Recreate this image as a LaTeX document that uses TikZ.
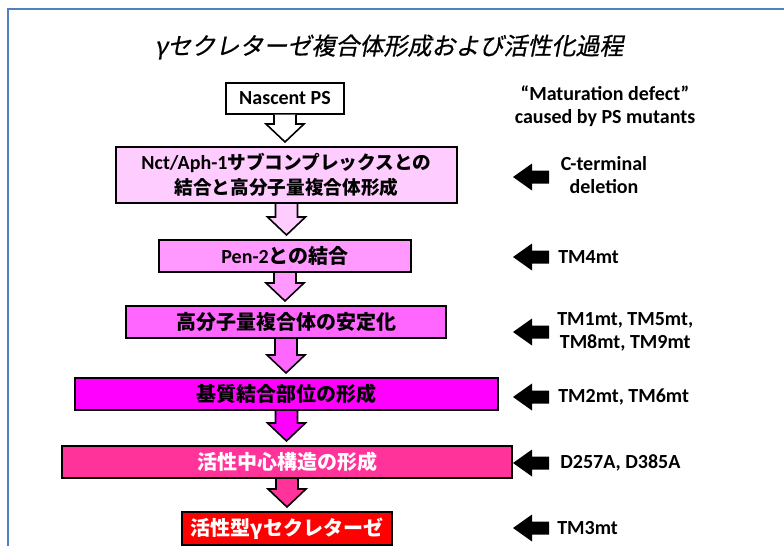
\documentclass[tikz,border=0pt]{standalone}
\usepackage{fontspec}
\setmainfont{Carlito}
\newfontfamily\jp{Noto Sans CJK JP}
\newfontfamily\jptitle{Noto Sans CJK JP}[FakeSlant=0.2, FakeBold=0.6]
\usetikzlibrary{calc}
\definecolor{frameblue}{RGB}{79,129,189}
\definecolor{c2}{RGB}{255,204,255}
\definecolor{c3}{RGB}{255,153,255}
\definecolor{c4}{RGB}{255,102,255}
\definecolor{c5}{RGB}{255,0,255}
\definecolor{c6}{RGB}{255,51,153}
\definecolor{c7}{RGB}{255,0,0}
\tikzset{
  stepbox/.style={draw=black, line width=1.5pt, inner sep=0pt, align=center,
    font=\fontsize{15}{18}\selectfont\bfseries},
  blockarr/.style={draw=black, line width=1.2pt, line join=miter},
  leftarr/.style={fill=black},
  lab/.style={font=\fontsize{15}{17}\selectfont\bfseries, align=center, inner sep=0pt}
}
\newcommand\flowarrow[3]{%
  \coordinate (tip) at ($(#2.north -| #1.south)+(0,-4)$);
  \draw[blockarr, fill=#3] ($(#1.south)+(-11,0)$) -- ($(tip)+(-11,-18)$) -- ($(tip)+(-19,-18)$)
    -- (tip) -- ($(tip)+(19,-18)$) -- ($(tip)+(11,-18)$) -- ($(#1.south)+(11,0)$);
}
\newcommand\blackarrow[2]{%
  \coordinate (#1) at #2;
  \fill[leftarr] ($(#1)+(-18,0)$) -- ($(#1)+(1,-13.5)$) -- ($(#1)+(1,-6.5)$) -- ($(#1)+(18,-6.5)$)
    -- ($(#1)+(18,6.5)$) -- ($(#1)+(1,6.5)$) -- ($(#1)+(1,13.5)$) -- cycle;
}
\begin{document}
\begin{tikzpicture}[x=0.75pt, y=-0.75pt]
\useasboundingbox (0,0) rectangle (784,546);
\draw[frameblue, line width=1.5pt] (8,546) -- (8,9) -- (784,9);
\node (title) at (389,47) {\jptitle\fontsize{18}{20}\selectfont γセクレターゼ複合体形成および活性化過程};

\node[stepbox, fill=white, minimum width=88.5pt, minimum height=23.25pt] (b1) at (285,98) {Nascent PS};
\node[stepbox, fill=c2, minimum width=255.75pt, minimum height=42pt, font=\fontsize{14}{18.5}\selectfont\bfseries] (b2) at (286.5,175)
  {{\fontsize{15}{18.5}\selectfont Nct/Aph-1}{\jp サブコンプレックスとの}\\{\jp 結合と高分子量複合体形成}};
\node[stepbox, fill=c3, minimum width=189pt, minimum height=24pt] (b3) at (285,256) {Pen-2{\jp との結合}};
\node[stepbox, fill=c4, minimum width=240pt, minimum height=24pt] (b4) at (286,322) {\jp 高分子量複合体の安定化};
\node[stepbox, fill=c5, minimum width=317.25pt, minimum height=24pt] (b5) at (286.5,394) {\jp 基質結合部位の形成};
\node[stepbox, fill=c6, text=white, minimum width=337.5pt, minimum height=24pt] (b6) at (287,462) {\jp 活性中心構造の形成};
\node[stepbox, fill=c7, text=white, minimum width=157.5pt, minimum height=24.75pt] (b7) at (287,528.5) {\jp 活性型γセクレターゼ};

\flowarrow{b1}{b2}{white}
\flowarrow{b2}{b3}{c2}
\flowarrow{b3}{b4}{c3}
\flowarrow{b4}{b5}{c4}
\flowarrow{b5}{b6}{c5}
\flowarrow{b6}{b7}{c6}

\node[lab] (l0) at (605,106) {“Maturation defect”\\caused by PS mutants};
\blackarrow{a1}{(531,177)}
\node[lab] (l1) at (604,175) {C-terminal\\deletion};
\blackarrow{a2}{(531,257)}
\node[lab, anchor=west] (l2) at (558,257) {TM4mt};
\blackarrow{a3}{(531,332)}
\node[lab, anchor=west] (l3) at (557,332) {TM1mt, TM5mt,\\TM8mt, TM9mt};
\blackarrow{a4}{(531,397)}
\node[lab, anchor=west] (l4) at (558,397) {TM2mt, TM6mt};
\blackarrow{a5}{(531,463)}
\node[lab, anchor=west] (l5) at (560,463) {D257A, D385A};
\blackarrow{a6}{(531,528)}
\node[lab, anchor=west] (l6) at (557,528) {TM3mt};
\end{tikzpicture}
\end{document}
